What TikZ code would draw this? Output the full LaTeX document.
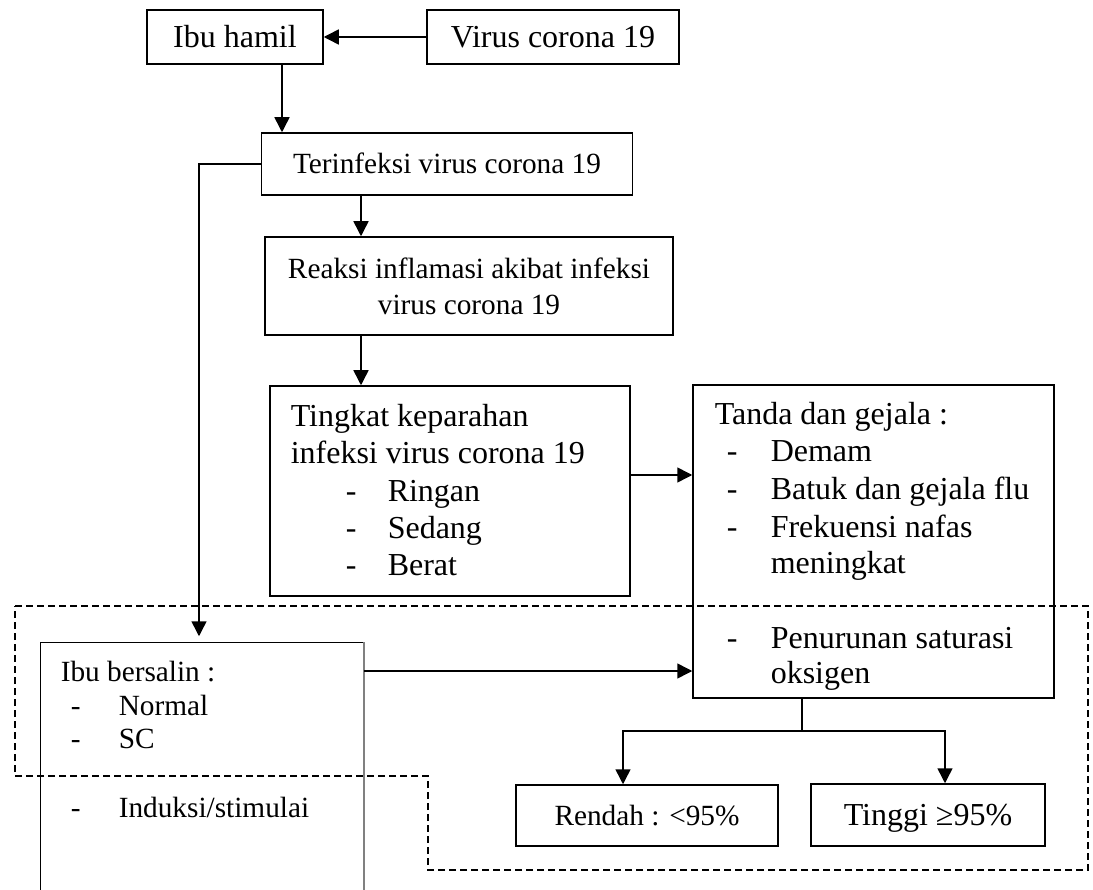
\documentclass[tikz,border=0pt]{standalone}
\usepackage{fontspec}
\setmainfont{Liberation Serif}
\usetikzlibrary{arrows.meta}
\begin{document}
\begin{tikzpicture}[x=1pt,y=-1pt,
  font=\fontsize{32}{37}\selectfont,
  line width=1.5pt,
  box/.style={draw, inner sep=0pt, align=center, text height=24pt, text depth=3pt},
  small/.style={font=\fontsize{29.3}{36}\selectfont},
  txt/.style={anchor=base west, inner sep=0pt},
  arr/.style={-{Triangle[length=15pt,width=15pt]}},
  dashbox/.style={dash pattern=on 7pt off 4pt}]
\useasboundingbox (0,0) rectangle (1093,890);

% dashed outline
\draw[dashbox] (15,606) -- (1088,606) -- (1088,870) -- (428,870) -- (428,776) -- (15,776) -- cycle;

% boxes
\node[box, minimum width=176pt, minimum height=54pt] (ibu) at (235,37) {Ibu hamil};
\node[box, minimum width=252pt, minimum height=54pt] (virus) at (553,37) {Virus corona 19};
\node[box, small, text height=22pt, text depth=3pt, minimum width=371pt, minimum height=62pt] (terinf) at (447,164) {Terinfeksi virus corona 19};
\node[draw, small, inner sep=0pt, align=center, minimum width=408pt, minimum height=98pt] (reaksi) at (469,286) {Reaksi inflamasi akibat infeksi\\virus corona 19};
\node[draw, inner sep=0pt, minimum width=360pt, minimum height=210pt] (tingkat) at (450,491) {};
\node[draw, inner sep=0pt, minimum width=361pt, minimum height=313pt] (tanda) at (873.5,541.5) {};
\node[box, small, text height=22pt, text depth=3pt, minimum width=262pt, minimum height=61pt] (rendah) at (647,815.5) {Rendah : <95\%};
\node[box, minimum width=234pt, minimum height=62pt] (tinggi) at (928,815) {Tinggi ≥95\%};
\node[inner sep=0pt, minimum width=322pt, minimum height=247pt] (bersalin) at (202,766.5) {};
\draw (bersalin.south west) -- (bersalin.north west) -- (bersalin.north east);
\draw[gray] (bersalin.north east) -- (bersalin.south east);

% texts of Tingkat
\node[txt] (tk1) at (290,427) {Tingkat keparahan};
\node[txt] (tk2) at (290,464) {infeksi virus corona 19};
\node[txt] (tkd1) at (345,501) {-};
\node[txt] (tk3) at (387,501) {Ringan};
\node[txt] (tkd2) at (345,538) {-};
\node[txt] (tk4) at (387,538) {Sedang};
\node[txt] (tkd3) at (345,575) {-};
\node[txt] (tk5) at (387,575) {Berat};

% texts of Tanda
\node[txt] (td1) at (714,425) {Tanda dan gejala :};
\node[txt] (tdd1) at (726,462) {-};
\node[txt] (td2) at (770,462) {Demam};
\node[txt] (tdd2) at (726,500) {-};
\node[txt] (td3) at (770,500) {Batuk dan gejala flu};
\node[txt] (tdd3) at (726,537) {-};
\node[txt] (td4) at (770,537) {Frekuensi nafas};
\node[txt] (td5) at (770,573) {meningkat};
\node[txt] (tdd4) at (726,648) {-};
\node[txt] (td6) at (770,648) {Penurunan saturasi};
\node[txt] (td7) at (770,683) {oksigen};

% texts of Ibu bersalin
\node[txt, small] (ib1) at (60,681) {Ibu bersalin :};
\node[txt, small] (ibd1) at (70,715) {-};
\node[txt, small] (ib2) at (118,715) {Normal};
\node[txt, small] (ibd2) at (70,748) {-};
\node[txt, small] (ib3) at (118,748) {SC};
\node[txt, small] (ibd3) at (70,817) {-};
\node[txt, small] (ib4) at (118,817) {Induksi/stimulai};

% connectors
\coordinate (a1) at (282,0);
\coordinate (a2) at (361,0);
\coordinate (a3) at (0,475);
\coordinate (a4) at (0,671);
\coordinate (a5) at (199,0);
\coordinate (br) at (802,731);
\coordinate (xr) at (623,0);
\coordinate (xt) at (945,0);

\draw[arr] (virus.west) -- (ibu.east);
\draw[arr] (ibu.south -| a1) -- (terinf.north -| a1);
\draw[arr] (terinf.south -| a2) -- (reaksi.north -| a2);
\draw[arr] (reaksi.south -| a2) -- (tingkat.north -| a2);
\draw[arr] (tingkat.east |- a3) -- (tanda.west |- a3);
\draw[arr] (bersalin.east |- a4) -- (tanda.west |- a4);
\draw[arr, shorten >=6pt] (terinf.west) -| (bersalin.north -| a5);
\draw (tanda.south -| br) -- (br);
\draw[arr] (br) -| (rendah.north -| xr);
\draw[arr] (br) -| (tinggi.north -| xt);
\end{tikzpicture}
\end{document}
